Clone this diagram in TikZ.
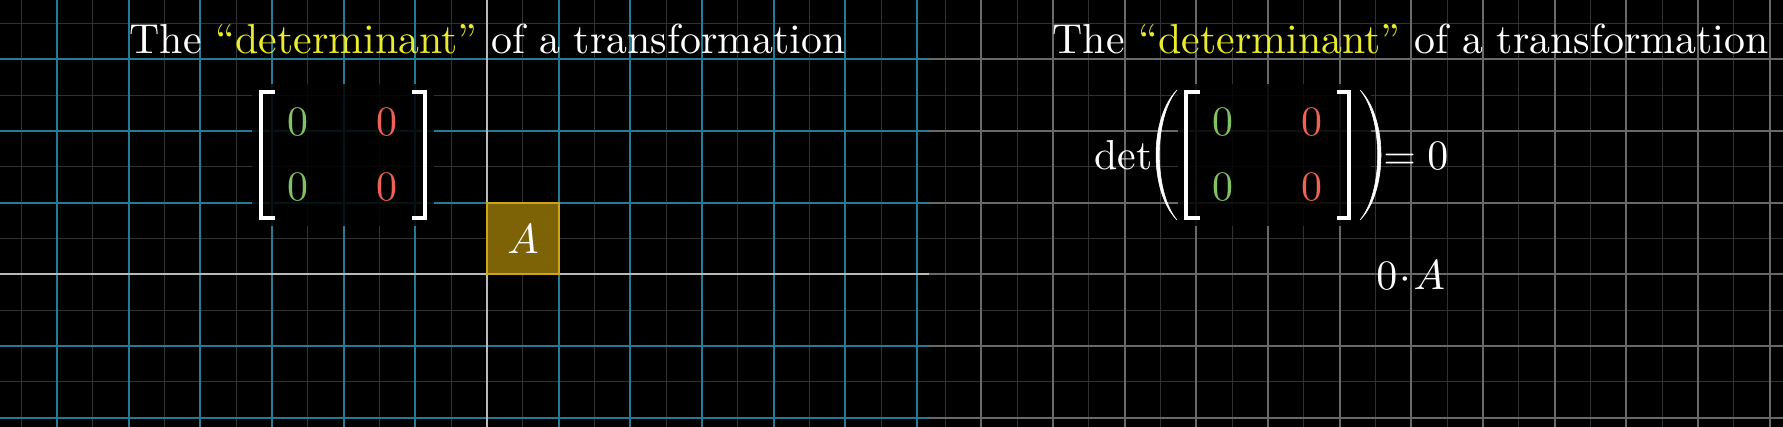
\documentclass[tikz,border=0pt]{standalone}
\usepackage{fontspec}
\setmainfont{lmroman10-regular}[Extension=.otf, ItalicFont=lmroman10-italic, BoldFont=lmroman10-bold]
\DeclareFontShape{OT1}{cmr}{m}{n}{<->cmr10}{}
\DeclareFontShape{OML}{cmm}{m}{it}{<->cmmi10}{}
\DeclareFontShape{OMS}{cmsy}{m}{n}{<->cmsy10}{}
\begin{document}
\begin{tikzpicture}[x=0.75pt,y=0.75pt,yscale=-1,xscale=1,
  bluegrid/.style={color={rgb, 255:red, 35; green, 124; blue, 148 }, line width=1.6pt},
  faintgrid/.style={color={rgb, 255:red, 50; green, 50; blue, 50 }, line width=1pt},
  graygrid/.style={color={rgb, 255:red, 105; green, 105; blue, 105 }, line width=1.3pt},
  axisline/.style={color={rgb, 255:red, 185; green, 185; blue, 185 }, line width=1.8pt},
  brack/.style={draw=white, line width=3pt, line join=miter},
  paren/.style={fill=white, draw=white, line width=0.4pt},
  bgbox/.style={fill=black, fill opacity=0.85},
  bigtxt/.style={text=white, inner sep=0pt, font=\fontsize{31.4}{37}\selectfont}
]
\useasboundingbox (0,0) rectangle (1783,427);

%Shape: Rectangle [background]
\fill [color=black] (0,0) rectangle (1783,427);

%Straight Lines [right panel, faint]
\draw [faintgrid] (945.5,0) -- (945.5,427) (1017.2,0) -- (1017.2,427) (1088.8,0) -- (1088.8,427) (1160.5,0) -- (1160.5,427) (1232.2,0) -- (1232.2,427) (1303.8,0) -- (1303.8,427) (1375.5,0) -- (1375.5,427) (1447.2,0) -- (1447.2,427) (1518.8,0) -- (1518.8,427) (1590.5,0) -- (1590.5,427) (1662.2,0) -- (1662.2,427) (1733.8,0) -- (1733.8,427) ;
\draw [faintgrid] (929,23.5) -- (1783,23.5) (929,95.2) -- (1783,95.2) (929,166.8) -- (1783,166.8) (929,238.5) -- (1783,238.5) (929,310.2) -- (1783,310.2) (929,381.8) -- (1783,381.8) ;
%Straight Lines [right panel, gray]
\draw [graygrid] (981.3,0) -- (981.3,427) (1053,0) -- (1053,427) (1124.7,0) -- (1124.7,427) (1196.3,0) -- (1196.3,427) (1268,0) -- (1268,427) (1339.7,0) -- (1339.7,427) (1411.3,0) -- (1411.3,427) (1483,0) -- (1483,427) (1554.7,0) -- (1554.7,427) (1626.3,0) -- (1626.3,427) (1698,0) -- (1698,427) (1769.7,0) -- (1769.7,427) ;
\draw [graygrid] (929,59.3) -- (1783,59.3) (929,131) -- (1783,131) (929,202.7) -- (1783,202.7) (929,274.3) -- (1783,274.3) (929,346) -- (1783,346) (929,417.7) -- (1783,417.7) ;

%Straight Lines [left panel, faint]
\draw [faintgrid] (21.2,0) -- (21.2,427) (92.8,0) -- (92.8,427) (164.5,0) -- (164.5,427) (236.2,0) -- (236.2,427) (307.8,0) -- (307.8,427) (379.5,0) -- (379.5,427) (451.2,0) -- (451.2,427) (522.8,0) -- (522.8,427) (594.5,0) -- (594.5,427) (666.2,0) -- (666.2,427) (737.8,0) -- (737.8,427) (809.5,0) -- (809.5,427) (881.2,0) -- (881.2,427) ;
\draw [faintgrid] (0,23.5) -- (929,23.5) (0,95.2) -- (929,95.2) (0,166.8) -- (929,166.8) (0,238.5) -- (929,238.5) (0,310.2) -- (929,310.2) (0,381.8) -- (929,381.8) ;
%Straight Lines [left panel, blue]
\draw [bluegrid] (57,0) -- (57,427) (128.7,0) -- (128.7,427) (200.3,0) -- (200.3,427) (272,0) -- (272,427) (343.7,0) -- (343.7,427) (415.3,0) -- (415.3,427) (558.7,0) -- (558.7,427) (630.3,0) -- (630.3,427) (702,0) -- (702,427) (773.7,0) -- (773.7,427) (845.3,0) -- (845.3,427) (917,0) -- (917,427) ;
\draw [bluegrid] (0,59.3) -- (929,59.3) (0,131) -- (929,131) (0,202.7) -- (929,202.7) (0,346) -- (929,346) (0,417.7) -- (929,417.7) ;
%Straight Lines [left panel, axes]
\draw [axisline] (0,274.3) -- (929,274.3) ;
\draw [axisline] (487,0) -- (487,427) ;

%Shape: Square [id:unitA]
\draw [color={rgb, 255:red, 205; green, 165; blue, 25 }, line width=1.5pt][fill={rgb, 255:red, 125; green, 98; blue, 6 }, fill opacity=1] (487,202.7) rectangle (558.7,274.3) ;
% Text Node
\draw (523,239) node (areaA) [bigtxt, anchor=center] {$A$};

%Shape: Rectangle [matrix backgrounds]
\fill [bgbox] (252,84) rectangle (434,226) ;
\fill [bgbox] (1178,84) rectangle (1371,226) ;

%Straight Lines [left matrix brackets]
\draw [brack] (275,91.7) -- (260.7,91.7) -- (260.7,218.3) -- (275,218.3) ;
\draw [brack] (411.7,91.7) -- (425,91.7) -- (425,218.3) -- (411.7,218.3) ;
%Straight Lines [right matrix brackets]
\draw [brack] (1200,91.7) -- (1186,91.7) -- (1186,218.3) -- (1200,218.3) ;
\draw [brack] (1336.7,91.7) -- (1349.3,91.7) -- (1349.3,218.3) -- (1336.7,218.3) ;
%Curve Lines [parentheses]
\draw [paren] (1177,90) .. controls (1149,118) and (1149,192) .. (1177,220) .. controls (1153.5,192) and (1153.5,118) .. (1177,90) -- cycle ;
\draw [paren] (1360,90) .. controls (1388,118) and (1388,192) .. (1360,220) .. controls (1383.5,192) and (1383.5,118) .. (1360,90) -- cycle ;

% Text Node
\draw (487.5,53.3) node (titleL) [bigtxt, anchor=base] {The \textcolor[RGB]{235,235,45}{``determinant''} of a transformation};
% Text Node
\draw (1410.5,53.3) node (titleR) [bigtxt, anchor=base] {The \textcolor[RGB]{235,235,45}{``determinant''} of a transformation};
% Text Node
\draw (298.3,122.5) node (zeroLa) [bigtxt, text={rgb, 255:red, 131; green, 193; blue, 103 }] {0};
\draw (386.7,122.5) node (zeroLb) [bigtxt, text={rgb, 255:red, 240; green, 98; blue, 85 }] {0};
\draw (298.3,187.5) node (zeroLc) [bigtxt, text={rgb, 255:red, 131; green, 193; blue, 103 }] {0};
\draw (386.7,187.5) node (zeroLd) [bigtxt, text={rgb, 255:red, 240; green, 98; blue, 85 }] {0};
% Text Node
\draw (1223.3,122.5) node (zeroRa) [bigtxt, text={rgb, 255:red, 131; green, 193; blue, 103 }] {0};
\draw (1311.7,122.5) node (zeroRb) [bigtxt, text={rgb, 255:red, 240; green, 98; blue, 85 }] {0};
\draw (1223.3,187.5) node (zeroRc) [bigtxt, text={rgb, 255:red, 131; green, 193; blue, 103 }] {0};
\draw (1311.7,187.5) node (zeroRd) [bigtxt, text={rgb, 255:red, 240; green, 98; blue, 85 }] {0};
% Text Node
\draw (1094,170) node (detword) [bigtxt, anchor=base west] {det};
% Text Node
\draw (1383,170) node (eqzero) [bigtxt, anchor=base west] {$=0$};
% Text Node
\draw (1376,290) node (zeroA) [bigtxt, anchor=base west] {$0\!\cdot\!A$};

\end{tikzpicture}
\end{document}
